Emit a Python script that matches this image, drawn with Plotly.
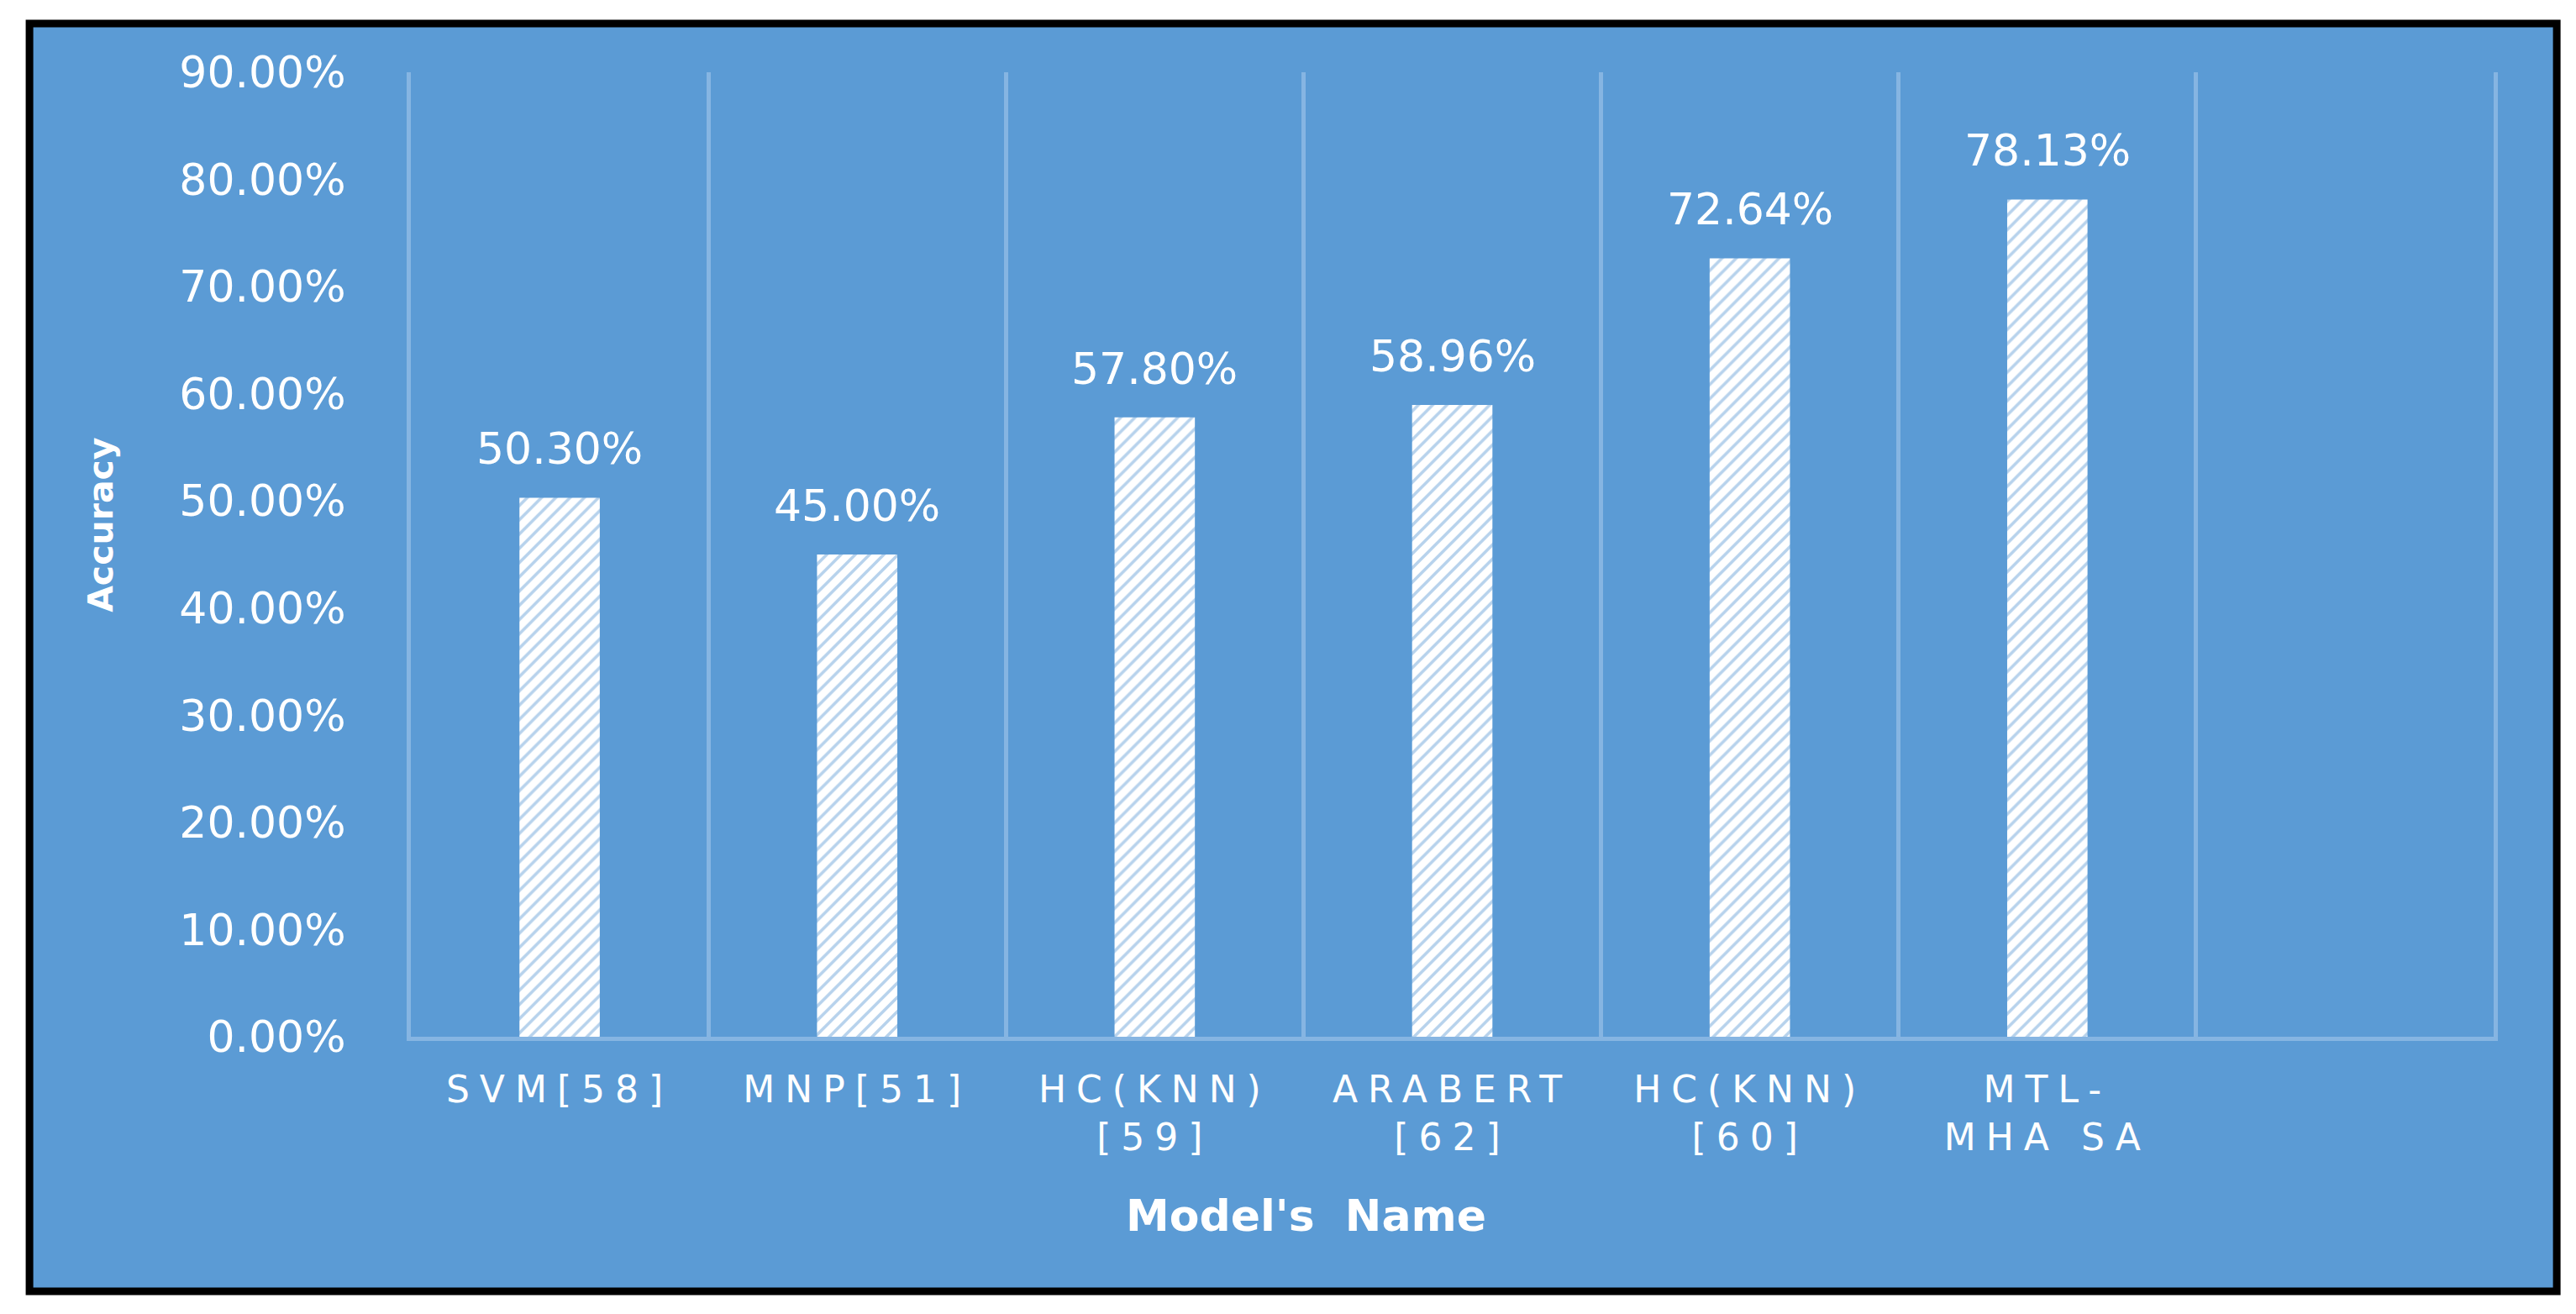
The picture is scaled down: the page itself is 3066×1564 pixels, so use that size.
import plotly.graph_objects as go

# ---- data ----
models = ["SVM[58]", "MNP[51]", "HC(KNN)<br>[59]", "ARABERT<br>[62]", "HC(KNN)<br>[60]", "MTL-<br>MHA SA"]
accuracy = [0.503, 0.45, 0.578, 0.5896, 0.7264, 0.7813]
y_ticks = [0.0, 0.1, 0.2, 0.3, 0.4, 0.5, 0.6, 0.7, 0.8, 0.9]
x_title = "Model's  Name"
y_title = "Accuracy"

BG = "#5B9BD5"
GRID = "#86B5E2"
FONT = "DejaVu Sans"
PAGE_MARGIN = 8  # default body margin of the html page
xs = list(range(len(models)))

fig = go.Figure()
fig.add_trace(go.Bar(
    x=xs, y=accuracy, width=0.27,
    marker=dict(
        color="white",
        line=dict(width=0),
        pattern=dict(shape="/", fgcolor="#6FA6DA", bgcolor="white", size=12, solidity=0.3),
    ),
    showlegend=False, hoverinfo="skip",
))

# data labels
for x, v in zip(xs, accuracy):
    fig.add_annotation(
        x=x, y=v, xref="x", yref="y", text=f"{v*100:.2f}%",
        showarrow=False, yanchor="bottom", yshift=26,
        font=dict(family=FONT, size=52, color="white"),
    )

# axis titles
fig.add_annotation(
    x=-0.1489, y=0.5305, xref="paper", yref="paper", text=f"<b>{y_title}</b>",
    textangle=-90, showarrow=False, xanchor="center", yanchor="middle",
    font=dict(family=FONT, size=41, color="white"),
)
fig.add_annotation(
    x=0.430, y=-0.1855, xref="paper", yref="paper", text=f"<b>{x_title}</b>",
    showarrow=False, xanchor="center", yanchor="middle",
    font=dict(family=FONT, size=52, color="white"),
)

# chart frame
fig.add_shape(
    type="rect", xref="paper", yref="paper",
    x0=-0.1831, x1=1.0303, y0=-0.2639, y1=1.0505,
    line=dict(color="black", width=9), fillcolor=BG, layer="below",
)

fig.update_layout(
    width=3066 - PAGE_MARGIN, height=1564 - PAGE_MARGIN,
    margin=dict(l=489 - PAGE_MARGIN, r=98, t=86 - PAGE_MARGIN, b=330),
    paper_bgcolor="white",
    plot_bgcolor="rgba(0,0,0,0)",
    font=dict(family=FONT, color="white"),
    xaxis=dict(
        range=[-0.5, 6.5],
        tickmode="array", tickvals=xs, ticktext=models,
        tickfont=dict(family=FONT, size=44, color="white"),
        showgrid=False, zeroline=False,
        showline=True, linecolor=GRID, linewidth=5,
        ticks="", ticklabelstandoff=20,
        minor=dict(tick0=0.5, dtick=1, showgrid=True, gridcolor=GRID, gridwidth=5, ticks=""),
    ),
    yaxis=dict(
        range=[0, 0.9],
        tickmode="array", tickvals=y_ticks, tickformat=".2%",
        tickfont=dict(family=FONT, size=52, color="white"),
        showgrid=False, zeroline=False,
        showline=True, mirror=True, linecolor=GRID, linewidth=5,
        ticks="", ticklabelstandoff=62,
    ),
)

# widen the category labels with letter spacing, as in the original
post_js = """
var gd = document.getElementById('{plot_id}');
function spaceLabels() {
  gd.querySelectorAll('.xtick text').forEach(function (t) { t.style.letterSpacing = '12px'; });
}
spaceLabels();
gd.on('plotly_afterplot', spaceLabels);
"""

fig.write_html("out.html", post_script=post_js)
